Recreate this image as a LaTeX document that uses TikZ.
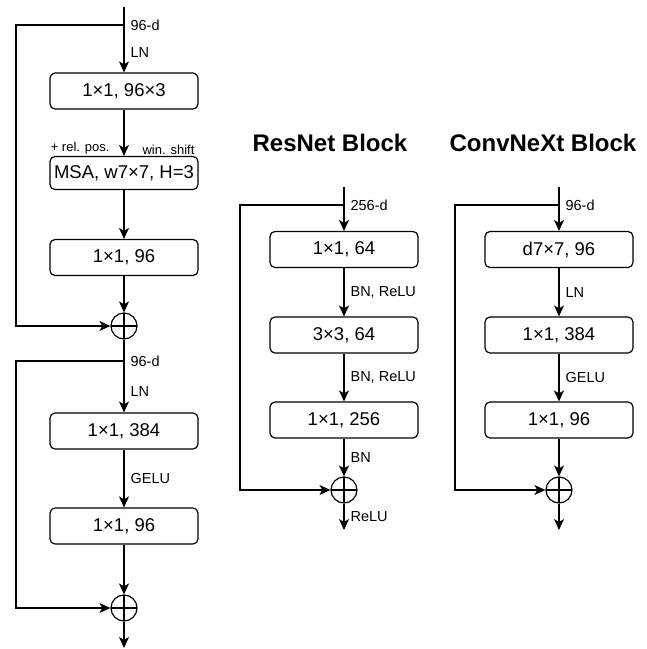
\documentclass[tikz,border=0pt]{standalone}
\usepackage{fontspec}
\setmainfont{Liberation Sans}
\usetikzlibrary{arrows.meta}
\begin{document}
\begin{tikzpicture}[x=1pt,y=-1pt,line width=1.2pt,>={Stealth[length=11pt,width=10pt,inset=3pt]},
	blk/.style={draw,rounded corners=5pt,minimum width=148pt,minimum height=36pt,inner sep=0pt,font=\fontsize{18.5}{21}\selectfont},
	plus/.style={draw,circle,minimum size=26pt,inner sep=0pt,path picture={\draw (path picture bounding box.north)--(path picture bounding box.south) (path picture bounding box.west)--(path picture bounding box.east);}},
	lbl/.style={anchor=west,inner sep=0pt,xshift=6pt,font=\fontsize{14.5}{17}\selectfont},
	sml/.style={inner sep=1pt,font=\fontsize{13}{15}\selectfont},
	ttl/.style={font=\fontsize{24}{28}\selectfont\bfseries}]
	\useasboundingbox (0,0) rectangle (647,649);
	% Swin Transformer block
	\coordinate (s-in) at (124,7);
	\coordinate (s-br1) at (124,25);
	\coordinate (s-skip1) at (16,25);
	\node[blk] (s-qkv) at (124,91) {1×1, 96×3};
	\node[blk,minimum height=33pt] (s-msa) at (124,173) {MSA, w7×7, H=3};
	\node[blk] (s-proj) at (124,257.5) {1×1, 96};
	\node[plus] (s-add1) at (124,326) {};
	\coordinate (s-br2) at (124,361);
	\coordinate (s-skip2) at (16,361);
	\node[blk] (s-fc1) at (124,431) {1×1, 384};
	\node[blk] (s-fc2) at (124,526) {1×1, 96};
	\node[plus] (s-add2) at (124,608) {};
	\coordinate (s-out) at (124,648);
	\draw (s-in)--(s-br1) node[lbl]{96-d};
	\draw[->] (s-br1)--node[lbl,pos=.58]{LN}(s-qkv);
	\draw[->] (s-qkv)--(s-msa)
		node[sml,pos=1,anchor=south east,xshift=-13pt]{+ rel. pos.}
		node[sml,pos=1,anchor=south west,xshift=17pt]{win. shift};
	\draw[->] (s-msa)--(s-proj);
	\draw[->] (s-proj)--(s-add1);
	\draw[->] (s-br1)--(s-skip1)|-(s-add1);
	\draw (s-add1)--(s-br2) node[lbl]{96-d};
	\draw[->] (s-br2)--node[lbl,pos=.6]{LN}(s-fc1);
	\draw[->] (s-fc1)--node[lbl]{GELU}(s-fc2);
	\draw[->] (s-fc2)--(s-add2);
	\draw[->] (s-br2)--(s-skip2)|-(s-add2);
	\draw[->] (s-add2)--(s-out);
	% ResNet block
	\node[ttl] (r-title) at (330,143) {ResNet Block};
	\coordinate (r-in) at (344,187);
	\coordinate (r-br) at (344,205);
	\coordinate (r-skip) at (240,205);
	\node[blk] (r-c1) at (344,249.5) {1×1, 64};
	\node[blk] (r-c2) at (344,335) {3×3, 64};
	\node[blk] (r-c3) at (344,420) {1×1, 256};
	\node[plus] (r-add) at (344,490) {};
	\coordinate (r-out) at (344,530);
	\draw (r-in)--(r-br) node[lbl]{256-d};
	\draw[->] (r-br)--(r-c1);
	\draw[->] (r-c1)--node[lbl]{BN, ReLU}(r-c2);
	\draw[->] (r-c2)--node[lbl]{BN, ReLU}(r-c3);
	\draw[->] (r-c3)--node[lbl]{BN}(r-add);
	\draw[->] (r-br)--(r-skip)|-(r-add);
	\draw[->] (r-add)--node[lbl]{ReLU}(r-out);
	% ConvNeXt block
	\node[ttl] (c-title) at (543,143) {ConvNeXt Block};
	\coordinate (c-in) at (559,187);
	\coordinate (c-br) at (559,205);
	\coordinate (c-skip) at (455,205);
	\node[blk] (c-dw) at (559,249.5) {d7×7, 96};
	\node[blk] (c-fc1) at (559,335) {1×1, 384};
	\node[blk] (c-fc2) at (559,420) {1×1, 96};
	\node[plus] (c-add) at (559,490) {};
	\coordinate (c-out) at (559,530);
	\draw (c-in)--(c-br) node[lbl]{96-d};
	\draw[->] (c-br)--(c-dw);
	\draw[->] (c-dw)--node[lbl]{LN}(c-fc1);
	\draw[->] (c-fc1)--node[lbl]{GELU}(c-fc2);
	\draw[->] (c-fc2)--(c-add);
	\draw[->] (c-br)--(c-skip)|-(c-add);
	\draw[->] (c-add)--(c-out);
\end{tikzpicture}
\end{document}
